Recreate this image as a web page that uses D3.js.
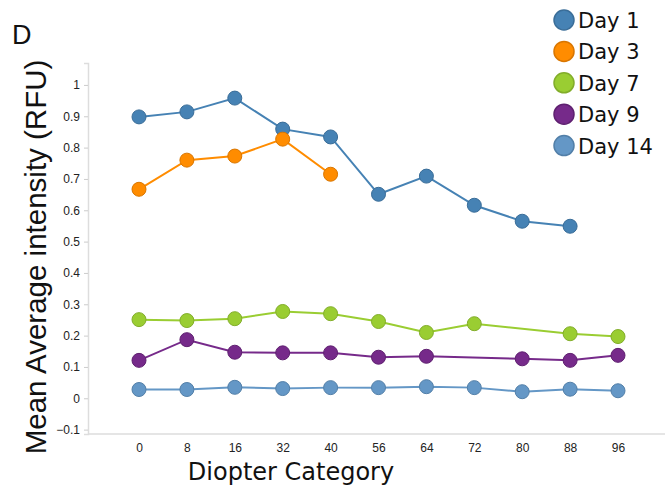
<!DOCTYPE html>
<html>
<head>
<meta charset="utf-8">
<script src="https://cdn.jsdelivr.net/npm/d3@7"></script>
<style>
  html, body { margin: 0; padding: 0; background: #fff; }
  svg { display: block; }
</style>
</head>
<body>
<svg id="chart" width="666" height="487"></svg>
<script>
const categories = ["0", "8", "16", "32", "40", "56", "64", "72", "80", "88", "96"];
const seriesNames = ["Day 1", "Day 3", "Day 7", "Day 9", "Day 14"];
const seriesColors = ["#4682b4", "#ff8c00", "#9acd32", "#762a8a", "#6497c6"];
const seriesStrokes = ["#3a6d98", "#d97600", "#82ad2a", "#5f2070", "#527fa8"];
// null = no point at that category
const day1  = [0.898, 0.914, 0.958, 0.859, 0.834, 0.651, 0.709, 0.616, 0.565, 0.549, null];
const day3  = [0.667, 0.760, 0.773, 0.827, 0.715, null, null, null, null, null, null];
const day7  = [0.251, 0.248, 0.254, 0.277, 0.270, 0.245, 0.210, 0.238, null, 0.206, 0.197];
const day9  = [0.121, 0.187, 0.147, 0.145, 0.145, 0.131, 0.134, null, 0.126, 0.121, 0.137];
const day14 = [0.028, 0.028, 0.035, 0.031, 0.034, 0.034, 0.037, 0.034, 0.021, 0.029, 0.024];
const seriesValues = [day1, day3, day7, day9, day14];
const yTicks = [-0.1, 0, 0.1, 0.2, 0.3, 0.4, 0.5, 0.6, 0.7, 0.8, 0.9, 1];

const svg = d3.select("#chart");
const plot = { left: 88, right: 665, top: 63, bottom: 434 };

const x = d3.scalePoint().domain(categories).range([139, 618]).padding(0);
const y = d3.scaleLinear().domain([-0.114, 1.07]).range([plot.bottom, plot.top]);

// axes
const yAxis = d3.axisLeft(y).tickValues(yTicks).tickSize(4).tickPadding(4)
  .tickFormat(d => d3.format("")(+d.toFixed(1)));
const gy = svg.append("g").attr("transform", `translate(${plot.left},0)`).call(yAxis);
gy.select(".domain").attr("stroke", "#dddddd").attr("stroke-width", 1.5);
gy.selectAll(".tick line").attr("stroke", "#cccccc");
gy.selectAll(".tick text").attr("font-family", "Liberation Sans, Arial, sans-serif")
  .attr("font-size", 12).attr("fill", "#222");

const xAxis = d3.axisBottom(x).tickSize(0).tickPadding(9);
const gx = svg.append("g").attr("transform", `translate(0,${plot.bottom})`).call(xAxis);
gx.select(".domain").remove();
gx.append("line").attr("x1", plot.left).attr("x2", plot.right).attr("y1", 0).attr("y2", 0)
  .attr("stroke", "#dddddd").attr("stroke-width", 1.5);
gx.selectAll(".tick text").attr("font-family", "Liberation Sans, Arial, sans-serif")
  .attr("font-size", 12).attr("fill", "#222");

// series
seriesValues.forEach((vals, i) => {
  const pts = categories.map((c, j) => ({ c, v: vals[j] })).filter(d => d.v !== null);
  const line = d3.line().x(d => x(d.c)).y(d => y(d.v));
  svg.append("path").datum(pts).attr("d", line)
    .attr("fill", "none").attr("stroke", seriesColors[i]).attr("stroke-width", 2);
  svg.append("g").selectAll("circle").data(pts).join("circle")
    .attr("cx", d => x(d.c)).attr("cy", d => y(d.v)).attr("r", 7)
    .attr("fill", seriesColors[i]).attr("stroke", seriesStrokes[i]).attr("stroke-width", 1);
});

// axis titles
svg.append("text").attr("transform", "translate(46,257) rotate(-90)")
  .attr("text-anchor", "middle").attr("font-family", "Liberation Sans, Arial, sans-serif")
  .attr("font-size", 29.5).attr("fill", "#111").text("Mean Average intensity (RFU)");
svg.append("text").attr("x", 291).attr("y", 480).attr("text-anchor", "middle")
  .attr("font-family", "DejaVu Sans, Verdana, sans-serif").attr("font-size", 24)
  .attr("fill", "#111").text("Diopter Category");

// panel label
svg.append("text").attr("x", 12).attr("y", 44).attr("font-family", "Liberation Sans, Arial, sans-serif")
  .attr("font-size", 27).attr("fill", "#111").text("D");

// legend
const lg = svg.append("g");
seriesNames.forEach((name, i) => {
  const cy = 20 + i * 31.4;
  lg.append("circle").attr("cx", 564).attr("cy", cy).attr("r", 10)
    .attr("fill", seriesColors[i]).attr("stroke", seriesStrokes[i]).attr("stroke-width", 1.5);
  lg.append("text").attr("x", 578).attr("y", cy + 8).attr("font-family", "DejaVu Sans, Verdana, sans-serif")
    .attr("font-size", 21).attr("fill", "#111").text(name);
});
</script>
</body>
</html>
